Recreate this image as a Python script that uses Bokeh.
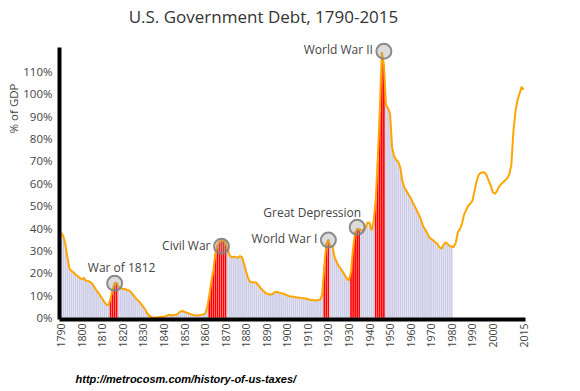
import math
from bokeh.plotting import figure
from bokeh.models import Range1d, FixedTicker, ColumnDataSource, Title
from bokeh.embed import file_html
from bokeh.resources import INLINE
from bokeh.core.properties import value

TITLE = "U.S. Government Debt, 1790-2015"
Y_TITLE = "% of GDP"
SOURCE_URL = "http://metrocosm.com/history-of-us-taxes/"

first_year = 1790
# federal debt, % of GDP, one value per year 1790..2015
debt_pct = [
    37.9, 36.5, 33.0, 27.0, 22.0, 20.8, 20.3, 19.3, 18.5, 17.8,   # 1790s
    17.2, 17.8, 16.5, 16.4, 16.0, 15.4, 13.8, 12.5, 11.2, 9.9,    # 1800s
    8.5, 7.0, 6.0, 5.5, 8.5, 12.5, 15.5, 15.6, 13.8, 13.2,        # 1810s
    12.8, 12.9, 12.4, 12.2, 11.5, 10.2, 9.0, 8.0, 7.2, 6.0,       # 1820s
    4.8, 3.5, 1.8, 0.8, 0.3, 0.1, 0.1, 0.2, 0.4, 0.5,             # 1830s
    0.4, 0.8, 1.2, 1.3, 1.0, 1.4, 1.3, 2.0, 2.8, 3.0,             # 1840s
    2.7, 2.3, 2.0, 1.6, 1.3, 1.1, 1.0, 1.1, 1.3, 1.5,             # 1850s
    1.8, 4.5, 9.5, 16.0, 21.0, 28.5, 32.5, 34.0, 34.5, 34.5,      # 1860s
    33.5, 30.5, 27.8, 27.0, 27.3, 27.0, 26.8, 27.5, 27.0, 24.0,   # 1870s
    20.5, 17.5, 16.0, 15.9, 15.8, 15.6, 14.5, 13.3, 12.3, 11.5,   # 1880s
    10.7, 10.5, 10.3, 10.8, 11.5, 11.6, 11.2, 11.0, 10.8, 10.4,   # 1890s
    10.0, 9.6, 9.5, 9.4, 9.2, 9.1, 9.0, 8.8, 8.7, 8.6,            # 1900s
    8.3, 8.0, 7.9, 7.8, 7.7, 7.9, 8.0, 10.5, 23.0, 33.0,          # 1910s
    34.8, 31.5, 32.0, 27.0, 25.0, 23.0, 21.9, 20.5, 19.0, 17.5,   # 1920s
    16.6, 20.5, 31.0, 38.0, 39.7, 39.5, 39.0, 39.2, 40.0, 42.5,   # 1930s
    42.4, 38.9, 43.0, 52.0, 70.0, 92.0, 118.5, 113.0, 95.0, 93.5, # 1940s
    91.0, 76.0, 72.0, 70.5, 69.5, 67.0, 61.0, 58.0, 56.5, 55.0,   # 1950s
    53.5, 51.5, 49.8, 48.0, 46.0, 44.0, 41.0, 39.5, 38.0, 36.0,   # 1960s
    35.2, 34.5, 33.7, 33.0, 31.5, 30.8, 32.5, 33.7, 33.0, 32.0,   # 1970s
    31.8, 31.5, 33.5, 38.2, 39.5, 42.0, 46.0, 48.0, 50.0, 50.9,   # 1980s
    52.0, 56.0, 60.5, 63.5, 64.6, 64.9, 64.8, 63.5, 61.2, 59.0,   # 1990s
    56.0, 55.3, 56.5, 58.5, 59.5, 60.5, 61.3, 62.2, 64.0, 68.0,   # 2000s
    83.0, 92.0, 97.0, 100.0, 103.0, 101.8,                        # 2010-2015
]
years = list(range(first_year, first_year + len(debt_pct)))
bar_last_year = 1980
war_periods = [(1814, 1817), (1862, 1870), (1918, 1920), (1931, 1935), (1943, 1947)]

x_ticks = [1790, 1800, 1810, 1820, 1830, 1840, 1850, 1860, 1870, 1880, 1890,
           1900, 1910, 1920, 1930, 1940, 1950, 1960, 1970, 1980, 1990, 2000, 2015]
y_ticks = [0, 10, 20, 30, 40, 50, 60, 70, 80, 90, 100, 110]
y_tick_labels = ["0%", "10%", "20%", "30%", "40%", "50%", "60%", "70%",
                 "80%", "90%", "100%", "110%"]

ann_labels = ["War of 1812", "Civil War", "World War I", "Great Depression", "World War II"]
ann_years = [1816, 1868, 1920, 1934, 1947]
ann_values = [15.4, 31.9, 34.7, 40.4, 118.9]

# styles
ann_align = ["center", "right", "right", "right", "right"]
ann_dx = [7, -11, -11, 4, -11]
ann_dy = [-16, -1, -2, -15, -2]

FONT = "Open Sans"
TXT = "#444444"

Y0, Y_AXIS_TOP, Y_FRAME_TOP = -0.76, 120.6, 141.54

p = figure(width=580, height=391, output_backend="svg", toolbar_location=None,
           x_range=Range1d(1789.17, 2015.9), y_range=Range1d(Y0, Y_FRAME_TOP),
           min_border_left=59, min_border_right=55, min_border_top=0,
           min_border_bottom=72)
p.outline_line_color = None
p.xgrid.visible = False
p.ygrid.visible = False
p.background_fill_color = "white"

def in_war(y):
    return any(a <= y <= b for a, b in war_periods)

bar_years = [y for y in years if y <= bar_last_year]
bar_vals = [debt_pct[y - first_year] for y in bar_years]
bar_cols = ["#ff0000" if in_war(y) else "#ccccE6" for y in bar_years]
bars = ColumnDataSource(dict(year=bar_years, debt=bar_vals, color=bar_cols))
p.vbar(x="year", top="debt", bottom=0, width=0.82, fill_color="color",
       line_color=None, source=bars)

p.line(years, debt_pct, line_color="#ffa500", line_width=2)

p.scatter(ann_years, ann_values, marker="circle", size=15, fill_color="#9a9a9a",
          fill_alpha=0.35, line_color="#808080", line_width=2, line_alpha=0.9)

for align in ("center", "right"):
    idx = [i for i, a in enumerate(ann_align) if a == align]
    src = ColumnDataSource(dict(
        x=[ann_years[i] for i in idx], y=[ann_values[i] for i in idx],
        t=[ann_labels[i] for i in idx], dx=[ann_dx[i] for i in idx],
        dy=[ann_dy[i] for i in idx]))
    p.text(x="x", y="y", text="t", x_offset="dx", y_offset="dy", source=src,
           text_align=align, text_baseline="middle", text_font=value(FONT),
           text_font_size="12px", text_color=TXT)

# chart title, drawn in the empty band above the plotted values
p.text(x=[1888.4], y=[134.4], text=[TITLE], text_align="center",
       text_baseline="middle", text_font=value(FONT), text_font_size="17px",
       text_color="#333333")

for ax in (p.xaxis[0], p.yaxis[0]):
    ax.axis_line_color = "black"
    ax.axis_line_width = 4
    ax.major_tick_line_color = None
    ax.minor_tick_line_color = None
    ax.major_tick_out = 0
    ax.major_tick_in = 0
    ax.major_label_text_font = FONT
    ax.major_label_text_color = TXT

p.xaxis.ticker = FixedTicker(ticks=x_ticks)
p.xaxis.major_label_orientation = math.pi / 2
p.xaxis.major_label_text_font_size = "10.5px"
p.xaxis.major_label_standoff = 4

p.yaxis.ticker = FixedTicker(ticks=y_ticks)
p.yaxis.bounds = (Y0, Y_AXIS_TOP)
p.yaxis.major_label_overrides = {t: s for t, s in zip(y_ticks, y_tick_labels)}
p.yaxis.major_label_text_font_size = "11.5px"
p.yaxis.major_label_standoff = 7

p.add_layout(Title(text=Y_TITLE, align="right", offset=83, standoff=0,
                   text_font=FONT, text_font_size="11.5px",
                   text_font_style="normal", text_color=TXT), "left")
# thin spacer between the year labels and the source line
p.add_layout(Title(text=" ", text_font_size="1px", standoff=12), "below")
p.add_layout(Title(text=SOURCE_URL, align="left", offset=16,
                   text_font="Liberation Sans", text_font_size="11px",
                   text_font_style="bold italic", text_color="black"), "below")

open("out.html", "w").write(file_html(p, INLINE))
